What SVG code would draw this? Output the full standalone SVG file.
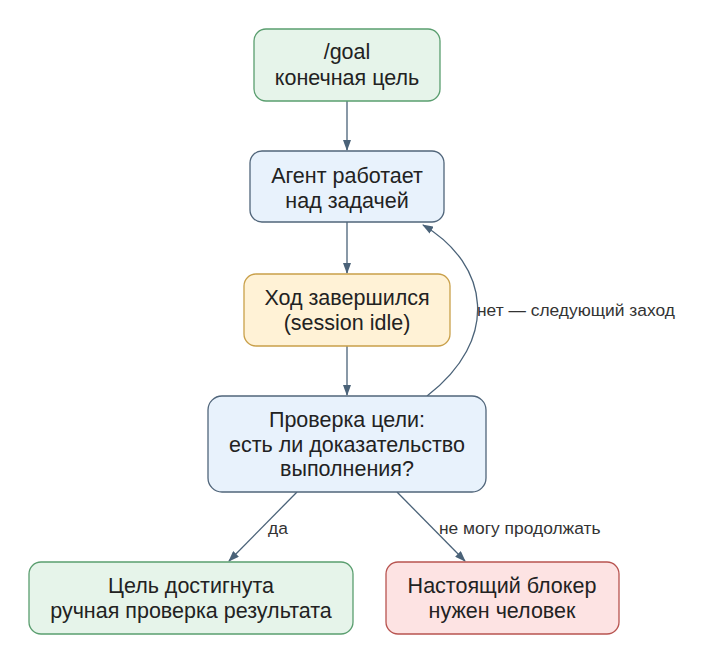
<svg xmlns="http://www.w3.org/2000/svg" width="705" height="664" viewBox="0 0 705 664">
<defs>
<marker id="arr" viewBox="0 0 11 8" refX="10" refY="4" markerWidth="11" markerHeight="8" markerUnits="userSpaceOnUse" orient="auto">
<path d="M0,0 L11,4 L0,8 z" fill="#4a6278"/>
</marker>
<style>
.t{font-family:"Liberation Sans",Arial,sans-serif;font-size:21.5px;fill:#222;text-anchor:middle}
.l{font-family:"Liberation Sans",Arial,sans-serif;font-size:17.4px;fill:#333}
.e{fill:none;stroke:#4a6278;stroke-width:1.3;marker-end:url(#arr)}
.g{fill:#e6f4ea;stroke:#5a9e6f;stroke-width:1.3}
.b{fill:#e8f2fc;stroke:#50657a;stroke-width:1.3}
.y{fill:#fff2d6;stroke:#c9a04a;stroke-width:1.3}
.r{fill:#fde3e3;stroke:#b85450;stroke-width:1.3}
</style>
</defs>
<rect width="705" height="664" fill="#fff"/>
<g id="connectors">
<path class="e" d="M347,101 L347,150"/>
<path class="e" d="M347,222 L347,273"/>
<path class="e" d="M347,346 L347,395"/>
<path class="e" d="M427,396 C500,340 490,265 423,225"/>
<path class="e" d="M297,492 L229,561"/>
<path class="e" d="M397,492 L465,561"/>
<text class="l" x="477" y="316">нет — следующий заход</text>
<text class="l" x="268" y="534">да</text>
<text class="l" x="439" y="534">не могу продолжать</text>
</g>
<g id="goal">
<rect class="g" x="254" y="29" width="186" height="72" rx="12"/>
<text class="t" x="347" y="59">/goal</text>
<text class="t" x="347" y="85">конечная цель</text>
</g>
<g id="agent">
<rect class="b" x="250" y="151" width="194" height="71" rx="12"/>
<text class="t" x="347" y="183">Агент работает</text>
<text class="t" x="347" y="208">над задачей</text>
</g>
<g id="turn">
<rect class="y" x="244" y="274" width="206" height="72" rx="12"/>
<text class="t" x="347" y="305">Ход завершился</text>
<text class="t" x="347" y="330">(session idle)</text>
</g>
<g id="check">
<rect class="b" x="208" y="396" width="278" height="96" rx="14"/>
<text class="t" x="347" y="427">Проверка цели:</text>
<text class="t" x="347" y="452">есть ли доказательство</text>
<text class="t" x="347" y="476">выполнения?</text>
</g>
<g id="done">
<rect class="g" x="29" y="562" width="324" height="72" rx="12"/>
<text class="t" x="191" y="593">Цель достигнута</text>
<text class="t" x="191" y="618">ручная проверка результата</text>
</g>
<g id="blocker">
<rect class="r" x="386" y="562" width="233" height="72" rx="12"/>
<text class="t" x="502" y="593">Настоящий блокер</text>
<text class="t" x="502" y="618">нужен человек</text>
</g>
</svg>
